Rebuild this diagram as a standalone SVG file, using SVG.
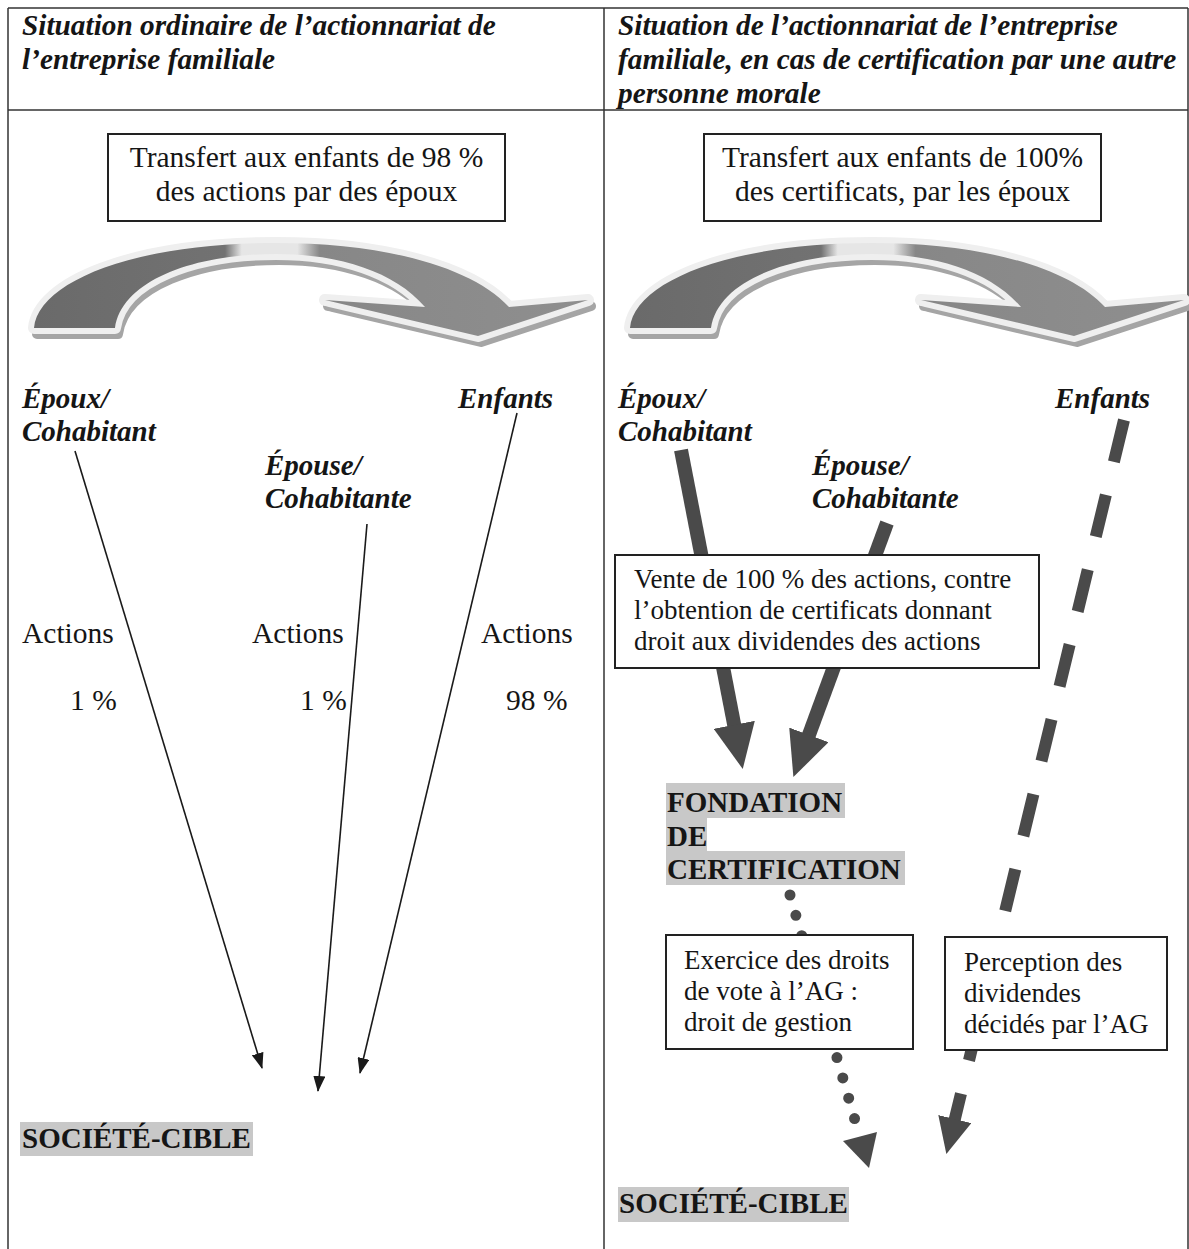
<svg xmlns="http://www.w3.org/2000/svg" width="1189" height="1249" viewBox="0 0 1189 1249">
<style>
text{font-family:"Liberation Serif","Times New Roman",serif;fill:#151515}
.h{font-size:29.3px;font-weight:bold;font-style:italic}
.lbl{font-size:29px;font-weight:bold;font-style:italic}
.t{font-size:29.5px}
.b{font-size:27px}
.bd{font-size:29px;font-weight:bold}
.frame{stroke:#333;stroke-width:1.5;fill:none}
.box{fill:#fff;stroke:#222;stroke-width:2}
.hl{fill:#c8c8c8}
.thin{stroke:#1a1a1a;stroke-width:1.6;fill:none;marker-end:url(#ah)}
.thick{stroke:#4a4a4a;stroke-width:14;fill:none;marker-end:url(#bh)}
.dash{stroke:#4a4a4a;stroke-width:12;fill:none;stroke-dasharray:43 34;marker-end:url(#dh)}
.dot{stroke:#4a4a4a;stroke-width:11;fill:none;stroke-dasharray:0 21.15;stroke-linecap:round}
</style>
<defs>
<marker id="ah" viewBox="0 0 16 12" refX="15" refY="6" markerWidth="16" markerHeight="12" markerUnits="userSpaceOnUse" orient="auto"><path d="M0,0 L16,6 L0,12 z" fill="#1a1a1a"/></marker>
<marker id="bh" viewBox="0 0 45 42" refX="1" refY="21" markerWidth="45" markerHeight="42" markerUnits="userSpaceOnUse" orient="auto"><path d="M0,0 L45,21 L0,42 z" fill="#4a4a4a"/></marker>
<marker id="dh" viewBox="0 0 36 34" refX="1" refY="17" markerWidth="36" markerHeight="34" markerUnits="userSpaceOnUse" orient="auto"><path d="M0,0 L36,17 L0,34 z" fill="#4a4a4a"/></marker>
<linearGradient id="g1" gradientUnits="userSpaceOnUse" x1="36" y1="0" x2="592" y2="0">
<stop offset="0" stop-color="#6a6a6a"/>
<stop offset="0.34" stop-color="#727272"/>
<stop offset="0.37" stop-color="#e6e6e6"/>
<stop offset="0.47" stop-color="#e6e6e6"/>
<stop offset="0.51" stop-color="#878787"/>
<stop offset="1" stop-color="#8f8f8f"/>
</linearGradient>
<path id="curve" d="M34,328 C38,283 130,243 276,243 C380,243 470,265 509,307 L588,300 L478,336 L325,300 L425,307 C395,272 340,254 276,254 C195,254 122,280 115,328 Z"/>
</defs>
<rect width="1189" height="1249" fill="#fff"/>
<g id="frame" class="frame">
<line x1="8" y1="8" x2="1188" y2="8"/>
<line x1="8" y1="110" x2="1188" y2="110"/>
<line x1="8" y1="8" x2="8" y2="1249"/>
<line x1="604" y1="8" x2="604" y2="1249"/>
<line x1="1188" y1="8" x2="1188" y2="1249"/>
</g>
<g id="headers">
<text class="h" x="22" y="35">Situation ordinaire de l’actionnariat de</text>
<text class="h" x="22" y="69">l’entreprise familiale</text>
<text class="h" x="618" y="35">Situation de l’actionnariat de l’entreprise</text>
<text class="h" x="618" y="69">familiale, en cas de certification par une autre</text>
<text class="h" x="618" y="103">personne morale</text>
</g>
<g id="curve-left">
<use href="#curve" transform="translate(3,6)" fill="#a5a5a5" stroke="#a5a5a5" stroke-width="10" stroke-linejoin="round"/>
<use href="#curve" fill="none" stroke="#efefef" stroke-width="12" stroke-linejoin="round"/>
<use href="#curve" fill="url(#g1)"/>
</g>
<g id="curve-right" transform="translate(596,0)">
<use href="#curve" transform="translate(3,6)" fill="#a5a5a5" stroke="#a5a5a5" stroke-width="10" stroke-linejoin="round"/>
<use href="#curve" fill="none" stroke="#efefef" stroke-width="12" stroke-linejoin="round"/>
<use href="#curve" fill="url(#g1)"/>
</g>
<g id="connectors">
<line class="thin" x1="75" y1="451" x2="262" y2="1068"/>
<line class="thin" x1="367" y1="524" x2="318" y2="1091"/>
<line class="thin" x1="517" y1="413" x2="360" y2="1073"/>
<line class="thick" x1="681" y1="450" x2="734.4" y2="725.8"/>
<line class="thick" x1="887" y1="523" x2="808.6" y2="735.8"/>
<line class="dash" x1="1124" y1="420" x2="954.6" y2="1120"/>
<path class="dot" d="M790,895 L857,1127"/>
<polygon points="843,1141 877,1132 869,1168" fill="#4a4a4a"/>
</g>
<g id="box-transfert-left">
<rect class="box" x="108" y="134" width="397" height="87"/>
<text class="t" x="306.5" y="167" text-anchor="middle">Transfert aux enfants de 98 %</text>
<text class="t" x="306.5" y="201" text-anchor="middle">des actions par des époux</text>
</g>
<g id="box-transfert-right">
<rect class="box" x="704" y="134" width="397" height="87"/>
<text class="t" x="902.5" y="167" text-anchor="middle">Transfert aux enfants de 100%</text>
<text class="t" x="902.5" y="201" text-anchor="middle">des certificats, par les époux</text>
</g>
<g id="left-epoux"><text class="lbl" x="22" y="408">Époux/</text><text class="lbl" x="22" y="441">Cohabitant</text></g>
<g id="left-epouse"><text class="lbl" x="265" y="475">Épouse/</text><text class="lbl" x="265" y="508">Cohabitante</text></g>
<g id="left-enfants"><text class="lbl" x="458" y="408">Enfants</text></g>
<g id="left-actions">
<text class="t" x="22" y="643">Actions</text>
<text class="t" x="252" y="643">Actions</text>
<text class="t" x="481" y="643">Actions</text>
<text class="t" x="70" y="710">1 %</text>
<text class="t" x="300" y="710">1 %</text>
<text class="t" x="506" y="710">98 %</text>
</g>
<g id="left-societe">
<rect class="hl" x="20" y="1122" width="233" height="34"/>
<text class="bd" x="22" y="1148">SOCIÉTÉ-CIBLE</text>
</g>
<g id="right-epoux"><text class="lbl" x="618" y="408">Époux/</text><text class="lbl" x="618" y="441">Cohabitant</text></g>
<g id="right-epouse"><text class="lbl" x="812" y="475">Épouse/</text><text class="lbl" x="812" y="508">Cohabitante</text></g>
<g id="right-enfants"><text class="lbl" x="1055" y="408">Enfants</text></g>
<g id="box-vente">
<rect class="box" x="615" y="555" width="424" height="113"/>
<text class="b" x="634" y="588">Vente de 100 % des actions, contre</text>
<text class="b" x="634" y="619">l’obtention de certificats donnant</text>
<text class="b" x="634" y="650">droit aux dividendes des actions</text>
</g>
<g id="fondation">
<rect class="hl" x="666" y="783" width="179" height="35"/>
<rect class="hl" x="666" y="817" width="41" height="35"/>
<rect class="hl" x="666" y="851" width="239" height="34"/>
<text class="bd" x="667" y="812">FONDATION</text>
<text class="bd" x="667" y="846">DE</text>
<text class="bd" x="667" y="879">CERTIFICATION</text>
</g>
<g id="box-exercice">
<rect class="box" x="666" y="935" width="247" height="114"/>
<text class="b" x="684" y="969">Exercice des droits</text>
<text class="b" x="684" y="1000">de vote à l’AG :</text>
<text class="b" x="684" y="1031">droit de gestion</text>
</g>
<g id="box-perception">
<rect class="box" x="945" y="937" width="222" height="113"/>
<text class="b" x="964" y="971">Perception des</text>
<text class="b" x="964" y="1002">dividendes</text>
<text class="b" x="964" y="1033">décidés par l’AG</text>
</g>
<g id="right-societe">
<rect class="hl" x="618" y="1187" width="231" height="35"/>
<text class="bd" x="619" y="1213">SOCIÉTÉ-CIBLE</text>
</g>
</svg>
